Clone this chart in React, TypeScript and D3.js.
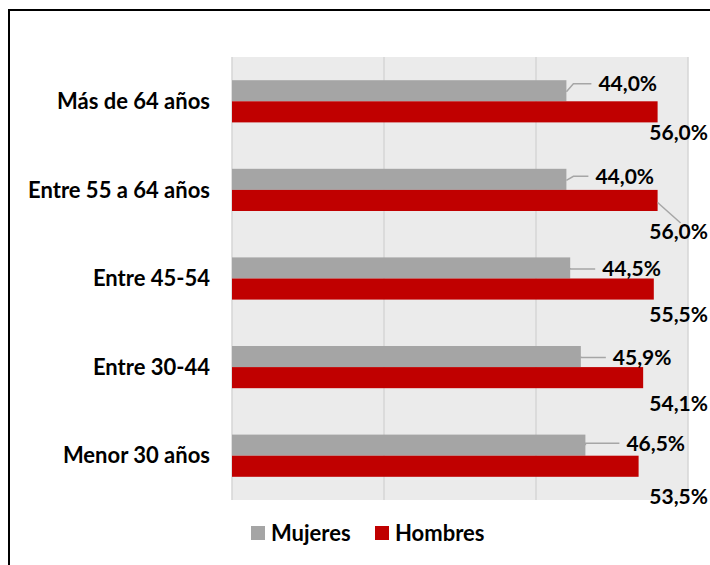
import * as d3 from "d3";

const categories = ["Más de 64 años", "Entre 55 a 64 años", "Entre 45-54", "Entre 30-44", "Menor 30 años"];
const mujeres = [44.0, 44.0, 44.5, 45.9, 46.5];
const hombres = [56.0, 56.0, 55.5, 54.1, 53.5];
const series = ["Mujeres", "Hombres"];
const xTicks = [0, 20, 40, 60];
// only the second Hombres label was dragged far enough to get a leader line
const hombresLeader = [false, true, false, false, false];

const colors: Record<string, string> = { Mujeres: "#A5A5A5", Hombres: "#C00000" };
const fmt = (v: number) => v.toFixed(1).replace(".", ",") + "%";

export default function App() {
  const W = 710;
  const H = 565;
  const m = { left: 232, right: 22, top: 57, bottom: 65 };
  const font = "Lato, 'Open Sans', sans-serif";

  // labels were hand-placed in the original, these are the nudges
  const mNudgeX = [0, -3, 0, 0, 9];
  const mNudgeY = [-7, -3, 1, 1, -2];
  const hNudgeY = [10, 21, 15, 15, 20];

  const x = d3.scaleLinear().domain([0, 60]).range([m.left, W - m.right]);
  const y = d3.scaleBand().domain(categories).range([m.top, H - m.bottom]);
  const inner = d3.scaleBand().domain(series).range([0, y.bandwidth()]).paddingOuter(1.1);
  const bh = inner.bandwidth();

  return (
    <svg width={W} height={H} style={{ position: "absolute", left: 0, top: 0, fontFamily: font }}>
      <rect x={0} y={0} width={W} height={H} fill="#fff" />
      <rect x={9} y={10} width={W + 20} height={H + 20} fill="none" stroke="#000" strokeWidth={2} />

      {/* plot area */}
      <rect x={x(0)} y={m.top} width={x(60) - x(0)} height={H - m.bottom - m.top} fill="#EBEBEB" />
      {xTicks.map((t) => (
        <line key={t} x1={x(t)} x2={x(t)} y1={m.top} y2={H - m.bottom} stroke="#D6D6D6" strokeWidth={1.5} />
      ))}

      {categories.map((c, i) => {
        const y0 = y(c)!;
        const ym = y0 + inner("Mujeres")!;
        const yh = y0 + inner("Hombres")!;
        const xm = x(mujeres[i]);
        const xh = x(hombres[i]);
        const cy = ym + bh / 2;
        const ly = cy + mNudgeY[i];
        const lx = xm + 32 + mNudgeX[i];
        const bend = Math.abs(ly - cy) > 2 ? 7 : 0;
        return (
          <g key={c}>
            <text x={210} y={y0 + y.bandwidth() / 2} dy="0.35em" textAnchor="end" fontSize={22} fontWeight={700} fill="#000">
              {c}
            </text>
            <rect x={x(0)} y={ym} width={xm - x(0)} height={bh} fill={colors.Mujeres} />
            <rect x={x(0)} y={yh} width={xh - x(0)} height={bh} fill={colors.Hombres} />

            <polyline
              points={`${xm},${cy + (bend ? 1 : 0)} ${xm + bend},${ly} ${lx - 7},${ly}`}
              fill="none"
              stroke="#A6A6A6"
              strokeWidth={1.5}
            />
            <text x={lx} y={ly} dy="0.35em" fontSize={21} fontWeight={700} fill="#000">
              {fmt(mujeres[i])}
            </text>

            {hombresLeader[i] && (
              <line x1={xh} y1={yh + bh / 2 + 2} x2={xh + 23} y2={yh + bh + 12} stroke="#A6A6A6" strokeWidth={1.5} />
            )}
            <text x={W - 2} y={yh + bh + hNudgeY[i]} dy="0.35em" textAnchor="end" fontSize={21} fontWeight={700} fill="#000">
              {fmt(hombres[i])}
            </text>
          </g>
        );
      })}

      {/* legend */}
      {series.map((s, i) => {
        const lx = i === 0 ? 251 : 375;
        return (
          <g key={s}>
            <rect x={lx} y={526} width={14} height={14} fill={colors[s]} />
            <text x={lx + 20} y={533} dy="0.35em" fontSize={22} fontWeight={700} fill="#000">
              {s}
            </text>
          </g>
        );
      })}
    </svg>
  );
}
